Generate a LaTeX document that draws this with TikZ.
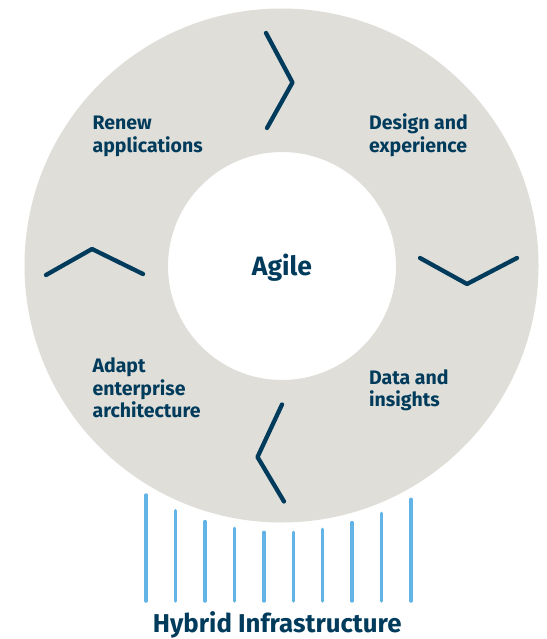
\documentclass[tikz,border=0pt]{standalone}
\usepackage{fontspec}
\setmainfont{Fira Sans}
\definecolor{ringgray}{HTML}{DFDED9}
\definecolor{navy}{HTML}{003B5C}
\definecolor{sky}{HTML}{62B4E6}
\begin{document}
\begin{tikzpicture}[x=1pt,y=-1pt,
  lbl/.style={anchor=base west, inner sep=0pt, text=navy, font=\fontsize{19.5}{22.5}\selectfont\bfseries},
  bigl/.style={anchor=base, inner sep=0pt, text=navy, font=\fontsize{26.5}{30}\selectfont\bfseries},
  chev/.style={draw=navy, line width=4.3pt, line cap=round, line join=round},
  bar/.style={draw=sky, line width=3.5pt, line cap=round}]
\useasboundingbox (0,0) rectangle (546,639);
% ring
\fill[ringgray, even odd rule] (281.5,265.5) circle[radius=257pt] (282,266) circle[radius=114pt];
% chevrons
\draw[chev] (266,33) -- (292.5,82.5) -- (267,128);
\draw[chev] (420,258) -- (467,284) -- (517,258);
\draw[chev] (282,404.5) -- (257.5,457) -- (284,501.5);
\draw[chev] (46,275) -- (92,249) -- (143,274);
% labels
\node[lbl] (renewA) at (92.4,130) {Renew};
\node[lbl] (renewB) at (92.4,152.5) {applications};
\node[lbl] (designA) at (369,130) {Design and};
\node[lbl] (designB) at (369,152.5) {experience};
\node[lbl] (adaptA) at (92.4,372.7) {Adapt};
\node[lbl] (adaptB) at (92.4,395) {enterprise};
\node[lbl] (adaptC) at (92.4,417.7) {architecture};
\node[lbl] (dataA) at (369,384) {Data and};
\node[lbl] (dataB) at (369,406.7) {insights};
\node[bigl] (agile) at (282,275) {Agile};
\node[bigl, font=\fontsize{25.8}{30}\selectfont\bfseries] (hybrid) at (277.2,632.5) {Hybrid Infrastructure};
% infrastructure bars
\foreach \x/\t in {146/495, 175.7/510.7, 205/521.7, 234.3/528.3, 264/532.3, 293.3/532.3, 322.7/529.3, 352/522.7, 381.7/513.3, 411/499.3}
  \draw[bar] (\x,\t) -- (\x,601);
\end{tikzpicture}
\end{document}
